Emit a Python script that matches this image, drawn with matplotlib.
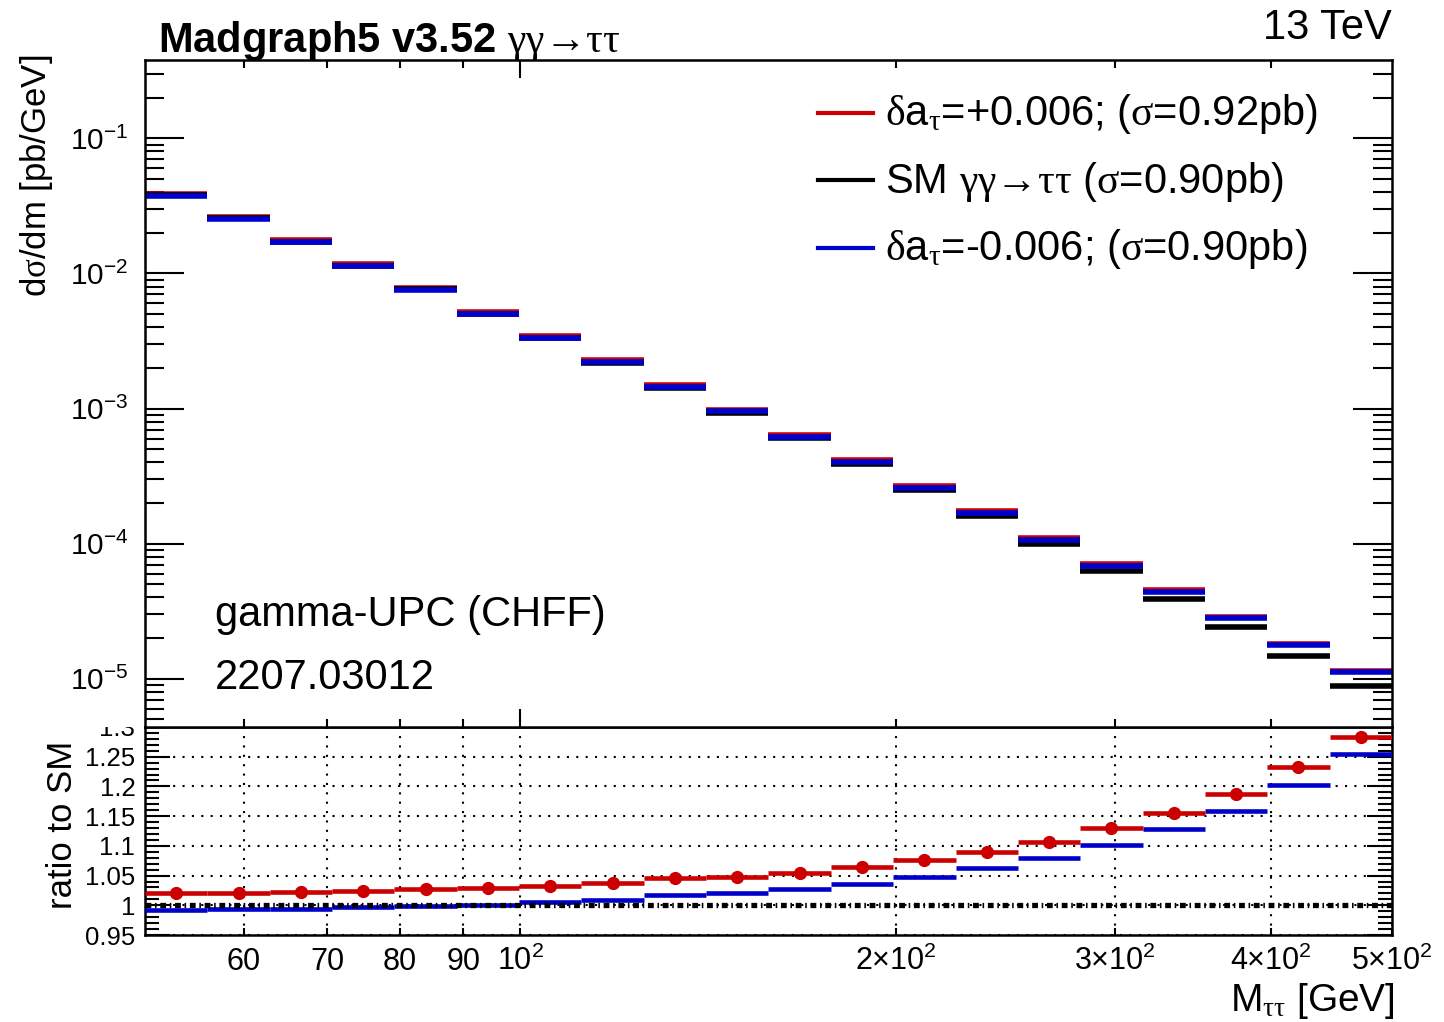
import numpy as np
import matplotlib
matplotlib.use('Agg')
import matplotlib.pyplot as plt
from matplotlib.ticker import FixedLocator, FixedFormatter, NullLocator
from matplotlib.patches import Rectangle
from matplotlib.lines import Line2D

plt.rcParams['font.family'] = ['Liberation Sans', 'DejaVu Sans']
plt.rcParams['mathtext.fontset'] = 'custom'
plt.rcParams['mathtext.rm'] = 'Liberation Serif'
plt.rcParams['mathtext.it'] = 'Liberation Serif:italic'
plt.rcParams['mathtext.sf'] = 'Liberation Sans'
plt.rcParams['mathtext.bf'] = 'Liberation Sans:bold'
plt.rcParams['mathtext.default'] = 'rm'

RED = '#cc0000'
BLUE = '#0000cc'

# bin edges in M_tautau [GeV] (20 log bins, 50 - 500)
mass_edges = [50.0, 56.10, 62.95, 70.63, 79.24, 88.91, 99.76, 111.94, 125.59, 140.92,
              158.11, 177.40, 199.05, 223.34, 250.59, 281.17, 315.48, 353.98, 397.17,
              445.63, 500.0]

# SM dsigma/dm [pb/GeV]
xsec_sm = [0.0378, 0.0256, 0.01724, 0.01140, 0.00761, 0.00505, 0.00334, 0.00219,
           0.001426, 9.34e-4, 6.02e-4, 3.88e-4, 2.48e-4, 1.59e-4, 9.92e-5, 6.24e-5,
           3.90e-5, 2.42e-5, 1.47e-5, 8.9e-6]

# ratio to SM for delta a_tau = +0.006 / -0.006
ratio_plus = [1.020, 1.021, 1.022, 1.024, 1.027, 1.029, 1.033, 1.037, 1.046, 1.048,
              1.055, 1.064, 1.076, 1.089, 1.107, 1.130, 1.156, 1.187, 1.232, 1.284]
ratio_minus = [0.992, 0.993, 0.994, 0.997, 0.999, 1.000, 1.005, 1.009, 1.017, 1.020,
               1.027, 1.036, 1.048, 1.062, 1.079, 1.102, 1.128, 1.159, 1.203, 1.254]

legend_labels = [r'$\delta$a$_{\tau}$=+0.006; ($\sigma$=0.92pb)',
                 r'SM $\gamma\gamma$→$\tau\tau$ ($\sigma$=0.90pb)',
                 r'$\delta$a$_{\tau}$=-0.006; ($\sigma$=0.90pb)']
legend_colors = [RED, 'black', BLUE]

x_ticks = [60, 70, 80, 90, 100, 200, 300, 400, 500]
x_ticklabels = ['60', '70', '80', '90', r'$\mathsf{10^{2}}$', r'$\mathsf{2×10^{2}}$',
                r'$\mathsf{3×10^{2}}$', r'$\mathsf{4×10^{2}}$', r'$\mathsf{5×10^{2}}$']
y_ticks = [1e-5, 1e-4, 1e-3, 1e-2, 1e-1]
y_ticklabels = [r'$\mathsf{10^{-5}}$', r'$\mathsf{10^{-4}}$', r'$\mathsf{10^{-3}}$',
                r'$\mathsf{10^{-2}}$', r'$\mathsf{10^{-1}}$']
r_ticks = [0.95, 1.0, 1.05, 1.1, 1.15, 1.2, 1.25, 1.3]
r_ticklabels = ['0.95', '1', '1.05', '1.1', '1.15', '1.2', '1.25', '1.3']

W, H = 1444, 1022


def fx(px):
    return px / W


def fy(py):
    return 1 - py / H


lo = np.array(mass_edges[:-1])
hi = np.array(mass_edges[1:])
centers = np.sqrt(lo * hi)
sm = np.array(xsec_sm)
rp = np.array(ratio_plus)
rm = np.array(ratio_minus)

fig = plt.figure(figsize=(W / 100, H / 100), dpi=100)
rax = fig.add_axes([fx(145), fy(935), (1392 - 145) / W, (935 - 727) / H])
ax = fig.add_axes([fx(145), fy(727), (1392 - 145) / W, (727 - 60) / H])

# top panel
ax.hlines(sm * rp, lo, hi, color=RED, lw=4)
ax.hlines(sm, lo, hi, color='black', lw=4)
ax.hlines(sm * rm, lo, hi, color=BLUE, lw=4)
ax.set_xscale('log')
ax.set_yscale('log')
ax.set_xlim(50, 500)
ax.set_ylim(4.4e-6, 0.38)
ax.yaxis.set_major_locator(FixedLocator(y_ticks))
ax.yaxis.set_major_formatter(FixedFormatter(y_ticklabels))
ax.yaxis.set_minor_locator(FixedLocator(
    [m * 10.0 ** e for e in range(-6, 0) for m in range(2, 10)]))
ax.xaxis.set_major_locator(FixedLocator([100]))
ax.xaxis.set_minor_locator(FixedLocator([60, 70, 80, 90, 200, 300, 400]))
ax.tick_params(which='both', direction='in', top=True, right=True, width=1.5,
               labelbottom=False, labelsize=21.5)
ax.yaxis.set_tick_params(which='major', length=28, pad=12)
ax.yaxis.set_tick_params(which='minor', length=14)
ax.xaxis.set_tick_params(which='major', length=13)
ax.xaxis.set_tick_params(which='minor', length=6)
for s in ax.spines.values():
    s.set_linewidth(1.8)

# ratio panel
rax.hlines(rm, lo, hi, color=BLUE, lw=3.3, zorder=3)
rax.hlines(rp, lo, hi, color=RED, lw=3.3, zorder=3)
rax.plot(centers, rp, 'o', color=RED, ms=8.5, zorder=4)
rax.axhline(1.0, color='black', lw=3.8, ls=(0, (1.1, 0.7, 0.3, 0.7)), zorder=5)
rax.set_xscale('log')
rax.set_xlim(50, 500)
rax.set_ylim(0.95, 1.3)
rax.xaxis.set_major_locator(FixedLocator(x_ticks))
rax.xaxis.set_major_formatter(FixedFormatter(x_ticklabels))
rax.xaxis.set_minor_locator(NullLocator())
rax.yaxis.set_major_locator(FixedLocator(r_ticks))
rax.yaxis.set_major_formatter(FixedFormatter(r_ticklabels))
rax.yaxis.set_minor_locator(FixedLocator(np.arange(0.95, 1.3, 0.01)))
rax.grid(True, which='major', color='black', lw=1.5, ls=(0, (1, 3.5)))
rax.tick_params(which='both', direction='in', right=True, width=1.5)
rax.yaxis.set_tick_params(which='major', length=18, pad=7, labelsize=18.5)
rax.yaxis.set_tick_params(which='minor', length=10)
rax.xaxis.set_tick_params(which='major', length=5, pad=25, labelsize=22)
for t in rax.xaxis.get_major_ticks():
    t.label1.set_verticalalignment('baseline')
for s in rax.spines.values():
    s.set_linewidth(1.8)

# hide top of the clipped 1.3 label like the upper pad does
fig.add_artist(Rectangle((0, fy(727)), fx(143), 15 / H, transform=fig.transFigure,
                         facecolor='white', edgecolor='none', zorder=3))

# legend
for i, (lab, col) in enumerate(zip(legend_labels, legend_colors)):
    y = 113 + i * 67.5
    fig.add_artist(Line2D([fx(818), fx(873)], [fy(y), fy(y)], color=col, lw=3))
    fig.text(fx(885), fy(y + 12), lab, fontsize=30, va='baseline')

# texts
fig.text(fx(158), fy(52), r'Madgraph5 v3.52 $\gamma\gamma$→$\tau\tau$',
         fontsize=30, fontweight='bold', va='baseline')
fig.text(fx(1392), fy(39), '13 TeV', fontsize=30, ha='right', va='baseline')
fig.text(fx(215), fy(626), 'gamma-UPC (CHFF)', fontsize=30, va='baseline')
fig.text(fx(215), fy(689), '2207.03012', fontsize=30, va='baseline')
fig.text(fx(37), fy(55), r'd$\sigma$/dm [pb/GeV]', fontsize=25, rotation=90,
         ha='center', va='top')
fig.text(fx(62), fy(825), 'ratio to SM', fontsize=25, rotation=90,
         ha='center', va='center')
fig.text(fx(1395), fy(1011), r'M$_{\tau\tau}$ [GeV]', fontsize=28,
         ha='right', va='baseline')

fig.savefig('out.png', dpi=100)
